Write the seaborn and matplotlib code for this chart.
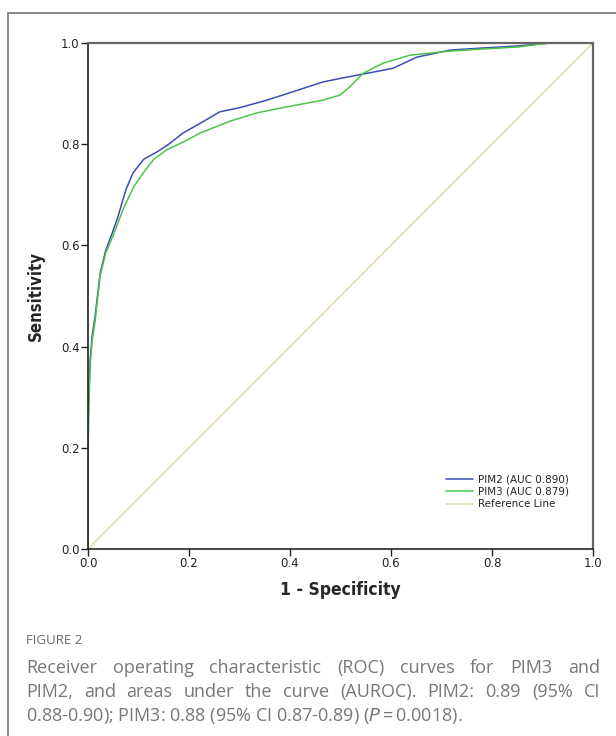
import matplotlib
matplotlib.use("Agg")
import matplotlib.pyplot as plt
import seaborn as sns
from matplotlib.lines import Line2D

# ROC points
pim2_fpr = [0, 0, 0.001, 0.004, 0.008, 0.014, 0.024, 0.035, 0.05, 0.059, 0.075, 0.089, 0.11,
            0.137, 0.16, 0.188, 0.22, 0.261, 0.3, 0.354, 0.41, 0.465, 0.51, 0.552, 0.604,
            0.651, 0.717, 0.78, 0.85, 0.915, 1.0]
pim2_tpr = [0, 0.17, 0.28, 0.37, 0.42, 0.46, 0.545, 0.59, 0.63, 0.656, 0.71, 0.743, 0.77,
            0.785, 0.80, 0.822, 0.84, 0.864, 0.872, 0.887, 0.905, 0.923, 0.932, 0.94, 0.95,
            0.972, 0.986, 0.99, 0.994, 1.0, 1.0]
pim3_fpr = [0, 0, 0.001, 0.004, 0.008, 0.014, 0.024, 0.035, 0.05, 0.069, 0.09, 0.109, 0.13,
            0.156, 0.19, 0.222, 0.28, 0.335, 0.4, 0.465, 0.499, 0.52, 0.545, 0.584, 0.638,
            0.717, 0.78, 0.85, 0.915, 1.0]
pim3_tpr = [0, 0.15, 0.26, 0.36, 0.41, 0.45, 0.54, 0.585, 0.62, 0.67, 0.715, 0.743, 0.77,
            0.789, 0.805, 0.822, 0.845, 0.862, 0.875, 0.887, 0.897, 0.915, 0.94, 0.96, 0.976,
            0.984, 0.988, 0.992, 1.0, 1.0]
ref_x = [0, 1]
ref_y = [0, 1]
labels = ["PIM2 (AUC 0.890)", "PIM3 (AUC 0.879)", "Reference Line"]
ticks = [0.0, 0.2, 0.4, 0.6, 0.8, 1.0]

caption_title = "FIGURE 2"
caption_lines = [
    "Receiver operating characteristic (ROC) curves for PIM3 and",
    "PIM2, and areas under the curve (AUROC). PIM2: 0.89 (95% CI",
    "0.88-0.90); PIM3: 0.88 (95% CI 0.87-0.89) ($\\it{P}$\u2009=\u20090.0018).",
]

sns.set_style("white")
plt.rcParams['font.family'] = ['DejaVu Sans']

fig = plt.figure(figsize=(6.16, 7.36), dpi=100)
ax = fig.add_axes([0.1429, 0.2541, 0.8198, 0.6875])

sns.lineplot(x=pim2_fpr, y=pim2_tpr, sort=False, estimator=None, color="#3a4db5",
             lw=1.1, ax=ax, label=labels[0])
sns.lineplot(x=pim3_fpr, y=pim3_tpr, sort=False, estimator=None, color="#4cc44c",
             lw=1.1, ax=ax, label=labels[1])
sns.lineplot(x=ref_x, y=ref_y, sort=False, estimator=None, color="#e0d8ae",
             lw=1.1, ax=ax, label=labels[2])

ax.set_xlim(0, 1)
ax.set_ylim(0, 1)
ax.set_xticks(ticks)
ax.set_yticks(ticks)
ax.set_xticklabels([f"{t:.1f}" for t in ticks])
ax.set_yticklabels([f"{t:.1f}" for t in ticks])
ax.tick_params(axis="both", direction="out", length=5, width=1, color="#222",
               labelsize=8.5, labelcolor="#222", pad=1, bottom=True, left=True)
for s in ["left", "bottom"]:
    ax.spines[s].set_color("#222")
    ax.spines[s].set_linewidth(1.2)
for s in ["top", "right"]:
    ax.spines[s].set_color("#666")
    ax.spines[s].set_linewidth(1.6)

ax.set_xlabel("1 - Specificity", fontsize=12.5, fontweight="bold", fontstretch="condensed",
              labelpad=8)
ax.set_ylabel("Sensitivity", fontsize=12, fontweight="bold", fontstretch="condensed",
              labelpad=12)

leg = ax.legend(loc="lower right", bbox_to_anchor=(0.96, 0.07), frameon=False,
                fontsize=7.5, handlelength=2.6, labelspacing=0.25, handletextpad=0.4,
                borderaxespad=0)

# outer frame of the figure panel
fig.add_artist(Line2D([8 / 616, 1.0], [1 - 13 / 736, 1 - 13 / 736], color="#777", lw=1.2))
fig.add_artist(Line2D([8 / 616, 8 / 616], [0, 1 - 13 / 736], color="#777", lw=1.2))

# caption
fig.text(26 / 616, 1 - 640 / 736, caption_title, fontsize=9.5, color="#6a6a6a",
         family=['Open Sans', 'DejaVu Sans'], va="center")

renderer = fig.canvas.get_renderer()
x0, x1 = 26 / 616, 600 / 616
for i, line in enumerate(caption_lines):
    yy = 1 - (668 + 24 * i) / 736
    kw = dict(fontsize=13, color="#777", family=['Open Sans', 'DejaVu Sans'], va="center")
    if i == len(caption_lines) - 1:
        fig.text(x0, yy, line, **kw)
        continue
    words = line.split(" ")
    arts = [fig.text(0, yy, w, **kw) for w in words]
    widths = [a.get_window_extent(renderer).width / fig.bbox.width for a in arts]
    gap = (x1 - x0 - sum(widths)) / (len(words) - 1)
    pos = x0
    for a, w in zip(arts, widths):
        a.set_x(pos)
        pos += w + gap

fig.savefig("out.png", dpi=100)
